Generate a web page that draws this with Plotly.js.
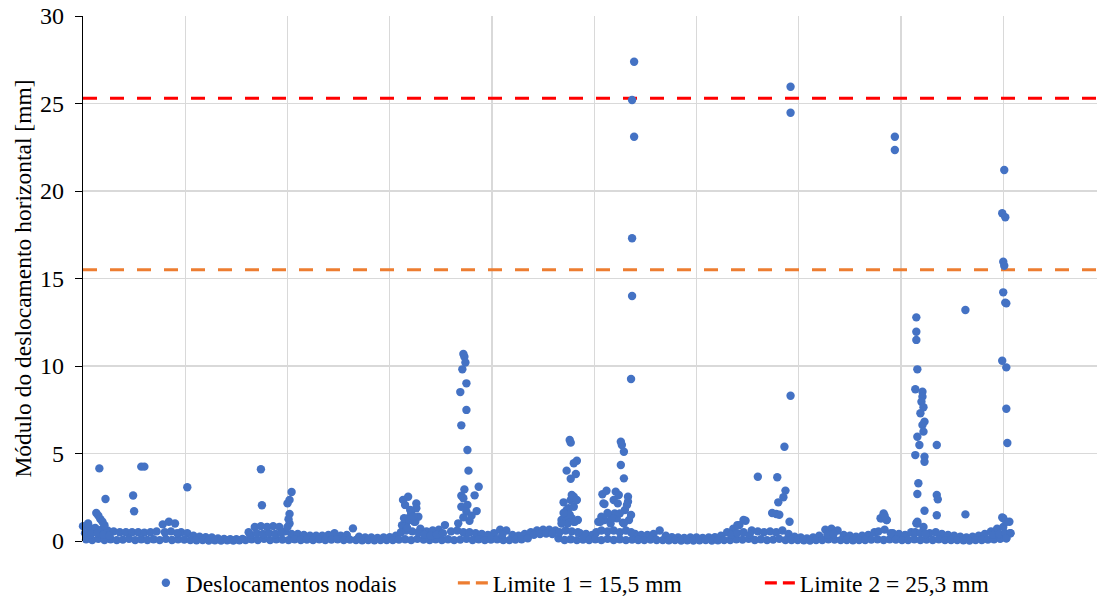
<!DOCTYPE html>
<html>
<head>
<meta charset="utf-8">
<script src="https://cdn.plot.ly/plotly-3.0.1.min.js"></script>
<style>
html,body{margin:0;padding:0;background:#ffffff;}
#chart{width:1099px;height:599px;}
</style>
</head>
<body>
<div id="chart"></div>
<script>
// ---- Data (node number on x, horizontal displacement magnitude in mm on y) ----
// Upper edge of the dense baseline band, nodes 0, 6, 12, ... 906
const bandHighStart = 0, bandHighStep = 6;
const bandHigh = [
 0.85,0.8,0.75,0.65,0.6,0.55,0.5,0.5,0.5,0.5,
 0.48,0.5,0.55,0.95,1.1,1.0,0.5,0.45,0.3,0.25,
 0.22,0.2,0.15,0.12,0.1,0.1,0.12,0.5,0.8,0.85,
 0.8,0.85,0.8,0.55,0.4,0.4,0.35,0.3,0.3,0.3,
 0.35,0.44,0.3,0.35,0.72,0.25,0.2,0.2,0.18,0.2,
 0.22,0.3,0.9,1.3,1.1,0.7,0.55,0.6,0.65,0.91,
 0.55,0.6,0.5,0.5,0.45,0.4,0.35,0.45,0.65,0.6,
 0.35,0.3,0.4,0.5,0.6,0.65,0.65,0.6,1.2,1.3,
 1.1,0.45,0.4,0.35,1.1,1.2,1.0,1.3,1.05,1.2,
 0.4,0.35,0.35,0.4,0.6,0.3,0.22,0.2,0.18,0.2,
 0.2,0.18,0.2,0.22,0.3,0.5,0.7,0.91,1.16,0.6,
 0.55,0.5,0.55,0.5,0.6,0.4,0.25,0.2,0.15,0.2,
 0.3,0.65,0.7,0.6,0.35,0.3,0.25,0.3,0.35,0.5,
 1.3,1.2,0.45,0.4,0.35,0.5,1.0,0.8,0.45,0.5,
 0.4,0.35,0.3,0.25,0.2,0.25,0.3,0.4,0.55,0.7,
 0.8,1.1
];
// Lower edge of the baseline band, nodes 3, 9, 15, ... 903
const bandLowStart = 3, bandLowStep = 6;
const bandLow = [
 0.1,0.05,0.12,0.06,0.1,0.05,0.08,0.12,0.05,0.1,
 0.06,0.1,0.05,0.12,0.06,0.1,0.08,0.05,0.04,0.05,
 0.03,0.04,0.03,0.04,0.03,0.04,0.05,0.1,0.06,0.12,
 0.05,0.1,0.08,0.05,0.1,0.06,0.08,0.05,0.1,0.06,
 0.08,0.1,0.05,0.08,0.06,0.04,0.05,0.04,0.05,0.06,
 0.05,0.08,0.1,0.05,0.12,0.08,0.05,0.1,0.06,0.1,
 0.05,0.08,0.12,0.06,0.1,0.05,0.08,0.1,0.06,0.05,
 0.08,0.1,0.15,0.35,0.4,0.42,0.4,0.15,0.06,0.1,
 0.05,0.08,0.06,0.1,0.05,0.12,0.06,0.1,0.05,0.08,
 0.06,0.05,0.08,0.06,0.05,0.04,0.05,0.03,0.04,0.03,
 0.04,0.05,0.03,0.04,0.05,0.06,0.1,0.08,0.12,0.06,
 0.1,0.05,0.08,0.12,0.05,0.06,0.05,0.04,0.03,0.05,
 0.06,0.1,0.08,0.05,0.06,0.04,0.05,0.06,0.08,0.1,
 0.06,0.1,0.08,0.05,0.06,0.1,0.05,0.08,0.06,0.1,
 0.05,0.06,0.05,0.04,0.03,0.05,0.06,0.08,0.1,0.12,
 0.15
];
// Middle of the band where it is thick
const bandMidNodes = [2,8,14,20,26, 80,86,92, 164,170,176,182,188,194,
 311,316,322,328,334,340,346,352, 410, 466,472,478,484,
 502,507,513,519,525,531,536, 634,640,646,652, 728,734, 778,784,790,
 814,819,824, 890,896,902,907];
const bandMidVals = [0.45,0.4,0.45,0.35,0.3, 0.5,0.55,0.45, 0.35,0.45,0.4,0.45,0.4,0.45,
 0.5,0.6,0.55,0.5,0.35,0.3,0.35,0.45, 0.35, 0.5,0.6,0.55,0.5,
 0.5,0.6,0.55,0.6,0.5,0.6,0.5, 0.35,0.45,0.5,0.35, 0.35,0.4, 0.55,0.65,0.45,
 0.5,0.45,0.4, 0.35,0.4,0.45,0.44];
// Isolated points above the band
const peakNodes = [
 5,13,15,17,19,21,16,22,
 49,50,57,60,102,
 174,175,204,202,200,202,202,200,201,
 318,313,315,326,326,321,325,316,328,314,320,319,323,317,
 372,373,374,371,375,369,375,370,376,377,387,373,383,370,372,370,376,375,385,378,367,372,380,
 476,477,483,480,473,482,477,470,480,477,473,480,473,478,483,475,471,474,478,481,484,468,476,470,
 508,512,521,509,519,524,526,527,529,526,529,533,533,530,536,529,507,506,520,517,510,523,532,525,513,
 539,537,539,537,537,536,
 640,646,660,679,687,685,680,678,674,681,686,692,692,692,691,
 783,781,786,784,794,794,
 815,815,815,816,814,821,821,820,822,819,823,821,822,816,818,835,814,823,823,817,816,835,836,823,835,816,815,
 863,863,
 901,899,902,900,901,900,902,903,899,903,903,904,900,903,899,907,903
];
const peakVals = [
 1.0,1.6,1.45,1.25,1.1,0.9,4.15,2.4,
 2.6,1.7,4.25,4.25,3.07,
 4.1,2.04,2.8,2.35,2.15,1.55,1.0,0.8,1.25,
 2.53,2.35,2.06,2.15,1.87,1.58,1.1,1.0,1.39,1.3,1.77,1.2,1.4,0.75,
 10.69,10.53,10.2,9.81,9.01,8.51,7.49,6.61,5.2,4.02,3.1,2.95,2.61,2.59,2.44,1.96,2.06,1.68,1.71,1.16,1.01,1.35,1.45,
 5.77,5.62,4.59,4.44,4.02,3.83,3.56,2.21,2.53,2.34,1.77,1.96,1.39,2.63,2.34,1.87,1.2,1.0,1.3,1.1,1.2,1.0,1.5,1.6,
 2.67,2.87,2.82,2.15,2.34,2.63,5.67,5.49,5.1,4.34,3.58,2.53,2.25,1.77,1.49,1.01,1.39,1.1,1.58,1.3,2.11,2.15,2.06,1.58,1.6,
 27.39,25.2,23.1,17.3,14.0,9.26,
 0.91,1.2,3.67,3.64,2.88,2.5,2.21,1.54,1.6,1.5,5.39,8.3,25.96,24.47,1.1,
 1.58,1.3,1.2,1.45,23.1,22.34,
 12.78,11.96,11.49,9.81,8.67,8.53,8.25,7.96,7.64,7.3,6.82,6.63,6.25,5.96,5.49,5.49,4.91,4.82,4.53,3.3,2.69,2.63,2.38,1.73,1.47,1.1,1.01,
 13.2,1.52,
 21.2,18.73,18.5,15.96,15.73,14.21,13.62,13.58,10.3,9.92,7.56,5.6,1.3,1.1,1.35,0.44,0.15
];
// Limits
const limitNames = ['Limite 1 = 15,5 mm', 'Limite 2 = 25,3 mm'];
const limitValues = [15.5, 25.3];
const seriesName = 'Deslocamentos nodais';
const xMax = 991.7;

// ---- Build traces ----
const xs = [], ys = [];
bandHigh.forEach((v, i) => { xs.push(bandHighStart + i * bandHighStep); ys.push(v); });
bandLow.forEach((v, i) => { xs.push(bandLowStart + i * bandLowStep); ys.push(v); });
bandMidNodes.forEach((n, i) => { xs.push(n); ys.push(bandMidVals[i]); });
peakNodes.forEach((n, i) => { xs.push(n); ys.push(peakVals[i]); });

const limitColors = ['#ED7D31', '#FF0000'];
const traces = [];
limitValues.forEach((v, i) => {
  // line across the plot
  traces.push({
    type: 'scatter', mode: 'lines', name: limitNames[i],
    x: [0, xMax], y: [v, v], showlegend: false,
    line: {color: limitColors[i], width: 3.2, dash: '14px,13px'},
    hoverinfo: 'skip'
  });
  // legend entry (dash sized for the short legend sample)
  traces.push({
    type: 'scatter', mode: 'lines', name: limitNames[i],
    x: [null], y: [null], showlegend: true,
    line: {color: limitColors[i], width: 3.2, dash: '12px,6px'},
    hoverinfo: 'skip', legendrank: 2 + i
  });
});
traces.push({
  type: 'scatter', mode: 'markers', name: seriesName,
  x: xs, y: ys, cliponaxis: false,
  marker: {color: '#4472C4', size: 8.4, line: {width: 0}},
  legendrank: 1
});

const serif = '"Liberation Serif", "Times New Roman", Times, serif';
const layout = {
  width: 1099, height: 599,
  margin: {l: 83, r: 2, t: 16, b: 58, pad: 0, autoexpand: false},
  paper_bgcolor: '#ffffff', plot_bgcolor: '#ffffff',
  font: {family: serif, size: 23.5, color: '#000000'},
  showlegend: true,
  xaxis: {
    range: [0, xMax], tick0: 0, dtick: 100,
    showticklabels: false, ticks: '',
    showgrid: true, gridcolor: '#d9d9d9', gridwidth: 1.2,
    zeroline: false, showline: false, fixedrange: true
  },
  yaxis: {
    range: [0, 30], tick0: 0, dtick: 5,
    ticks: 'outside', ticklen: 7, tickcolor: '#000000', tickwidth: 1,
    showline: true, linecolor: '#000000', linewidth: 1.2,
    showgrid: true, gridcolor: '#d9d9d9', gridwidth: 1.2,
    zeroline: false, ticklabelstandoff: 6,
    tickfont: {family: serif, size: 24, color: '#000000'},
    title: {text: 'Módulo do deslocamento horizontal [mm]', font: {family: serif, size: 23.5, color: '#000000'}, standoff: 1},
    fixedrange: true
  },
  legend: {
    orientation: 'h', x: 0.062, xanchor: 'left', y: -0.08, yanchor: 'middle',
    entrywidth: 262, entrywidthmode: 'pixels',
    font: {family: serif, size: 23.5, color: '#000000'},
    traceorder: 'normal', bgcolor: 'rgba(0,0,0,0)'
  }
};

Plotly.newPlot('chart', traces, layout, {displayModeBar: false, staticPlot: true});
</script>
</body>
</html>
